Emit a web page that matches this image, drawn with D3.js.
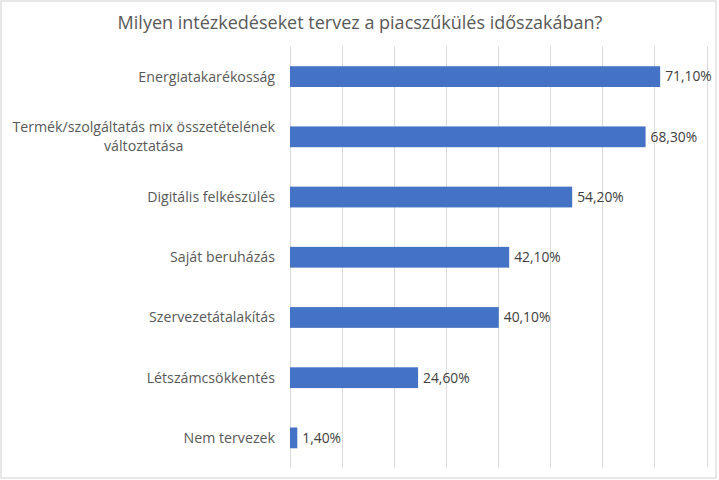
<!DOCTYPE html>
<html><head><meta charset="utf-8">
<script src="https://cdn.jsdelivr.net/npm/d3@7"></script>
<style>body{margin:0;background:#fff}svg{display:block}</style>
</head><body>
<script>
const title = "Milyen intézkedéseket tervez a piacszűkülés időszakában?";
const categories = [
  ["Energiatakarékosság"],
  ["Termék/szolgáltatás mix összetételének", "változtatása"],
  ["Digitális felkészülés"],
  ["Saját beruházás"],
  ["Szervezetátalakítás"],
  ["Létszámcsökkentés"],
  ["Nem tervezek"]
];
const values = [71.1, 68.3, 54.2, 42.1, 40.1, 24.6, 1.4];
const valueLabels = ["71,10%", "68,30%", "54,20%", "42,10%", "40,10%", "24,60%", "1,40%"];
const gridTicks = [0, 10, 20, 30, 40, 50, 60, 70, 80];

const W = 719, H = 480;
const font = "'Open Sans', 'Noto Sans', sans-serif";
const svg = d3.select("body").append("svg").attr("width", W).attr("height", H);
svg.append("rect").attr("x", 1).attr("y", 1).attr("width", W - 4).attr("height", H - 3)
  .attr("fill", "#fff").attr("stroke", "#d0d0d0").attr("stroke-width", 1);

const x = d3.scaleLinear().domain([0, 80]).range([290, 706.5]);
const y = d3.scaleBand().domain(d3.range(categories.length)).range([46.5, 468]).paddingInner(0.655).paddingOuter(0.3275);

svg.append("text").attr("x", 360).attr("y", 29).attr("text-anchor", "middle")
  .attr("font-family", font).attr("font-size", 18).attr("fill", "#595959").text(title);

const grid = svg.append("g");
grid.selectAll("line").data(gridTicks).join("line")
  .attr("x1", d => Math.round(x(d)) + 0.5).attr("x2", d => Math.round(x(d)) + 0.5)
  .attr("y1", 46.5).attr("y2", 467.5)
  .attr("stroke", "#d9d9d9").attr("stroke-width", 1);

svg.selectAll("rect.bar").data(values).join("rect").attr("class", "bar")
  .attr("x", x(0)).attr("y", (d, i) => y(i))
  .attr("width", d => x(d) - x(0)).attr("height", y.bandwidth())
  .attr("fill", "#4472c4");

svg.selectAll("text.val").data(values).join("text").attr("class", "val")
  .attr("x", d => x(d) + 5).attr("y", (d, i) => y(i) + y.bandwidth() / 2)
  .attr("dy", "0.35em").attr("font-family", font).attr("font-size", 13.8)
  .attr("fill", "#404040").text((d, i) => valueLabels[i]);

const lab = svg.selectAll("g.lab").data(categories).join("g").attr("class", "lab");
lab.each(function(lines, i) {
  const g = d3.select(this);
  const cy = y(i) + y.bandwidth() / 2;
  const lh = 19;
  const t = g.append("text").attr("font-family", font).attr("font-size", 14.2).attr("fill", "#595959");
  lines.forEach((l, k) => {
    t.append("tspan").attr("x", 0).attr("y", cy + (k - (lines.length - 1) / 2) * lh).attr("dy", "0.35em").text(l);
  });
  const spans = t.selectAll("tspan").nodes();
  const widths = spans.map(s => s.getComputedTextLength());
  const maxW = d3.max(widths);
  spans.forEach((s, k) => d3.select(s).attr("x", 275 - maxW + (maxW - widths[k]) / 2));
});
</script>
</body></html>
